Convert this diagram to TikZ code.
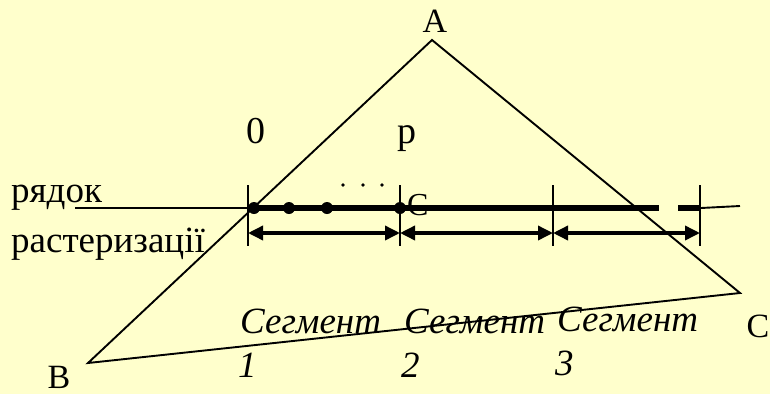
\documentclass[tikz,border=0pt]{standalone}
\usepackage{fontspec}
\setmainfont{Liberation Serif}
\usetikzlibrary{arrows.meta}
\definecolor{bg}{HTML}{FFFFCC}
\tikzset{
  thinline/.style={line width=1.9pt},
  tick/.style={line width=2pt},
  raster/.style={line width=6pt},
  dimarrow/.style={line width=3.5pt,{Triangle[length=15pt,width=14pt]}-{Triangle[length=15pt,width=14pt]}},
  pt/.style={circle,fill=black,inner sep=0pt,minimum size=12pt},
  vlbl/.style={font=\fontsize{34}{36}\selectfont,inner sep=0pt,anchor=base},
  lbl/.style={font=\fontsize{38}{40}\selectfont,inner sep=0pt,anchor=base},
  seg/.style={font=\fontsize{37}{40}\selectfont\itshape,inner sep=0pt,anchor=base west},
  word/.style={font=\fontsize{37}{40}\selectfont,inner sep=0pt,anchor=base west}
}
\begin{document}
\begin{tikzpicture}[x=1pt,y=-1pt]
\useasboundingbox[fill=bg] (0,0) rectangle (770,394);
% triangle vertices
\coordinate (A) at (432,40);
\coordinate (B) at (88,363);
\coordinate (C) at (740,293);
\draw[thinline] (A) -- (B) -- (C) -- cycle;
\node[vlbl] (la) at (435,32) {A};
\node[vlbl] (lb) at (59,388) {B};
\node[vlbl] (lc) at (758,337) {C};
% raster line
\coordinate (r0) at (75,208);
\coordinate (r1) at (248,208);
\coordinate (r2) at (659,208);
\coordinate (r3) at (678,208);
\coordinate (r4) at (701,208);
\coordinate (r5) at (740,206);
\draw[thinline] (r0) -- (r1);
\draw[raster] (r1) -- (r2);
\draw[raster] (r3) -- (r4);
\draw[thinline] (r4) -- (r5);
% ticks
\foreach \x/\n in {248/t1,400/t2,553/t3,700/t4}{
  \coordinate (\n a) at (\x,185);
  \coordinate (\n b) at (\x,246);
  \draw[tick] (\n a) -- (\n b);
}
% dimension arrows
\coordinate (d1) at (248,233);
\coordinate (d2) at (400,233);
\coordinate (d3) at (553,233);
\coordinate (d4) at (700,233);
\draw[dimarrow] (d1) -- (d2);
\draw[dimarrow] (d2) -- (d3);
\draw[dimarrow] (d3) -- (d4);
% pixels
\node[pt] (p1) at (254,208) {};
\node[pt] (p2) at (289,208) {};
\node[pt] (p3) at (327,208) {};
\node[pt] (p4) at (400,208) {};
\foreach \x/\n in {343/e1,363/e2,382/e3}{
  \fill (\x,185) circle (1.8pt);
}
\node[font=\fontsize{32}{34}\selectfont,inner sep=0pt,anchor=base west] (cl) at (407,215) {C};
% labels
\node[lbl] (l0) at (256,143) {0};
\node[lbl] (lp) at (407,143) {p};
\node[word] (w1) at (11,202) {рядок};
\node[word] (w2) at (11,252) {растеризації};
\node[seg] (s1) at (240,333) {Сегмент};
\node[seg] (n1) at (238,377) {1};
\node[seg] (s2) at (404,333) {Сегмент};
\node[seg] (n2) at (401,377) {2};
\node[seg] (s3) at (557,331) {Сегмент};
\node[seg] (n3) at (555,375) {3};
\end{tikzpicture}
\end{document}
